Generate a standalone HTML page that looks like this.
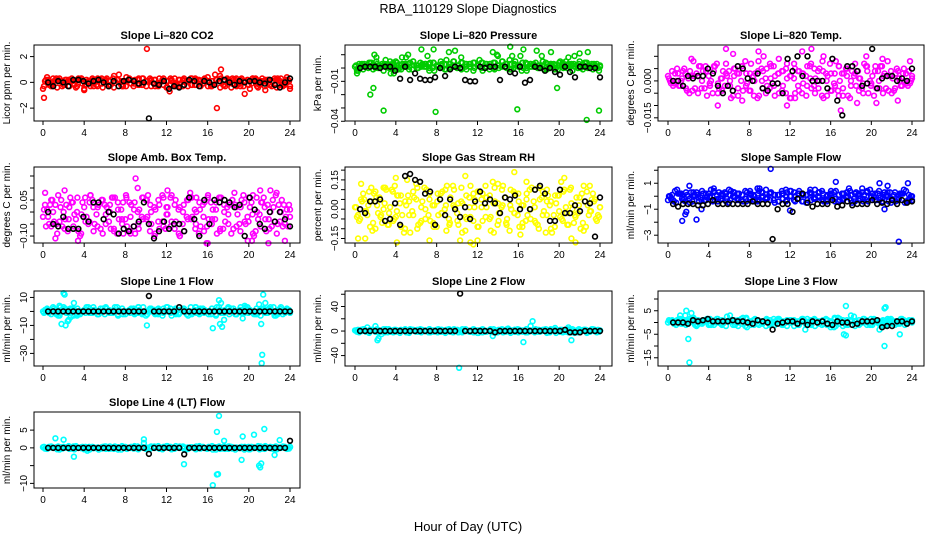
<!DOCTYPE html>
<html><head><meta charset="utf-8"><style>
html,body{margin:0;padding:0;background:#fff;}
svg{display:block;font-family:"Liberation Sans",sans-serif;}
</style></head><body>
<svg id="chart" width="936" height="540" viewBox="0 0 936 540" xmlns="http://www.w3.org/2000/svg">
<rect x="0" y="0" width="936" height="540" fill="#fff"/>
<text x="468" y="13" text-anchor="middle" font-size="12.5">RBA_110129  Slope Diagnostics</text>
<text x="468" y="531" text-anchor="middle" font-size="13">Hour of Day (UTC)</text>
</svg>
<script>
// ---------- data ----------
const hourTicks = [0,4,8,12,16,20,24];
// CO2
const co2BandA = [-0.5,0.4,-0.3,0.2,0.3,-0.2,0.1,0.3,-0.4,0.2,-0.5,0.1,0.3,-0.2,0.2,0.1,-0.3,0.3,0.2,-0.2,0.1,0.3,-0.3,0.2,-0.2,0.1,0.3,-0.1,-0.3,0.2,0.1,-0.2,0.3,-0.3,0.2,0.1,-0.2,0.3,-0.1,0.2,0.4,-0.3,0.2,0.5,-0.2,0.1,0.3,-0.3,0.2,0.1,-0.2,0.3,-0.3,0.1,0.2,-0.2,0.1,0.3,-0.2,0.2,-0.3];
const co2BandB = [0.1,-0.2,0.3,-0.4,0.1,0.2,-0.3,-0.1,0.2,0.3,-0.2,0.1,-0.3,0.3,-0.1,0.2,0.1,-0.4,0.2,0.1,-0.3,0.2,0.1,-0.2,0.3,-0.3,0.1,0.2,-0.2,0.1,-0.4,0.3,-0.1,0.2,-0.3,0.1,0.3,-0.2,0.2,-0.1,0.1,-0.3,0.6,0.1,-0.2,0.3,-0.4,0.2,0.1,-0.3,0.2,-0.1,0.3,-0.2,0.1,0.2,-0.3,0.2,0.1,-0.2,0.2];
const co2OutHours = [0.1,10.1,17.3,17.2,16.9,19.6,12.3,4.0,21.6];
const co2OutVals = [-1.2,2.6,1.0,0.5,-2.0,-0.9,-0.7,-0.6,-0.6];
const co2Black = [0,-0.3,0.1,0,-0.3,0.2,0.2,0.1,-0.1,0.1,0.2,0,-0.3,0.1,-0.3,0.1,0.2,0.1,-0.1,0,-2.8,-0.1,-0.2,0.1,-0.5,-0.3,-0.4,-0.2,0.2,0.1,-0.3,0.1,0,-0.2,0.1,0.2,0,-0.2,0.1,0,0.1,0.1,0,-0.1,0.2,-0.2,-0.4,0,0.3];
// Pressure
const presBandA = [0.001,0.003,-0.001,0.002,0.004,0,0.002,-0.002,0.003,0.001,0.005,0,0.002,0.003,-0.001,0.002,0.004,0.001,0.003,0,0.002,0.005,-0.001,0.003,0.002,0,0.004,0.001,0.003,-0.002,0.002,0.004,0.001,0.003,0,0.002,0.005,0.001,-0.001,0.003,0.002,0.004,0,0.003,0.001,0.002,0.005,-0.001,0.003,0.002,0.004,0,0.002,0.003,0.001,0.005,0.002,0,0.003,0.001,0.002];
const presBandB = [-0.002,0.002,0.001,0.004,-0.001,0.003,0.001,0.002,0,0.004,0.002,-0.001,0.003,0.001,0.005,0,0.002,0.003,-0.002,0.004,0.001,0.002,0.003,0,0.005,0.002,-0.001,0.003,0.001,0.004,0.002,0,0.003,-0.001,0.004,0.002,0.001,0.003,0.006,0,0.002,-0.002,0.004,0.001,0.003,0,0.002,0.004,0.001,0.003,-0.001,0.002,0.005,0.001,0.003,0,0.002,0.004,0.001,0.003,0];
const presOutHours = [0.2,0.3,1.5,1.8,2.1,2.8,3.0,3.5,4.6,5.2,6.5,7.1,7.9,7.7,9.2,9.8,10.4,13.5,14.0,15.2,15.4,15.9,16.5,16.2,17.8,18.3,19.2,19.8,22.0,22.7,22.8,23.9,1.9,3.8,5.0,12.2,13.9,20.9,21.5];
const presOutVals = [-0.004,-0.002,-0.020,-0.015,0.008,-0.032,0.006,-0.004,0.008,0.010,0.014,0.009,-0.033,0.014,0.012,0.013,0.008,0.012,0.009,0.016,0.009,-0.031,0.014,0.009,0.013,0.009,0.012,-0.015,0.011,-0.039,0.012,-0.032,0.010,-0.004,0.008,0.006,0.010,0.008,0.009];
const presBlack = [0,0.001,0.001,0.001,0,0.001,0.001,-0.002,-0.008,0.001,-0.009,-0.004,-0.008,-0.009,-0.009,-0.007,0,-0.006,-0.001,0.001,0,-0.009,-0.010,-0.010,0.001,0,0.001,0.001,-0.009,0.001,-0.003,-0.004,0.001,-0.011,-0.009,0.001,0,-0.002,0,-0.003,-0.005,0.001,-0.003,-0.007,0.001,0.001,0,0,-0.007];
// Li-820 Temp
const tempBandA = [0.002,0.004,0.000,-0.002,0.005,0.001,-0.004,0.003,0.006,-0.003,0.002,-0.005,0.007,0.001,-0.002,0.004,-0.006,0.003,0.000,0.008,-0.004,0.002,-0.007,0.005,0.001,-0.003,0.006,-0.001,0.004,-0.005,0.002,0.007,-0.002,0.003,-0.006,0.001,0.005,-0.003,0.008,0.000,-0.004,0.003,0.006,-0.006,0.002,-0.002,0.007,0.001,-0.005,0.004,-0.001,0.006,-0.003,0.002,0.008,-0.005,0.003,0.000,0.005,-0.002,0.001];
const tempBandB = [0.000,-0.001,0.003,0.001,-0.003,0.004,0.002,-0.005,0.000,0.004,-0.002,0.006,-0.001,-0.004,0.003,0.000,0.005,-0.003,0.006,-0.002,0.003,-0.006,0.004,0.000,-0.005,0.007,-0.002,0.003,-0.004,0.005,-0.007,0.001,0.004,-0.005,0.002,0.006,-0.002,0.004,-0.006,0.003,0.007,-0.001,-0.004,0.003,0.005,-0.007,0.002,0.004,-0.003,0.006,0.000,-0.006,0.004,0.006,-0.003,0.002,-0.004,0.004,-0.002,0.003,-0.001];
const tempOutHours = [5.7,4.9,8.9,14.1,17.0,13.2,15.3,19.5,20.5,22.6,23.8,7.3,2.3,11.7,9.4,16.8,10.9,12.5,6.4,18.6,21.1];
const tempOutVals = [0.013,-0.010,0.012,0.013,-0.012,0.012,0.010,0.010,-0.009,-0.008,0.008,-0.008,0.009,-0.010,0.010,-0.006,0.009,-0.007,0.011,-0.009,0.009];
const tempBlack = [0.0,0.0,-0.002,0.002,0.001,0.002,0.002,0.005,0.003,-0.002,-0.005,-0.002,-0.004,0.006,0.005,0.001,0.0,0.003,-0.003,-0.004,-0.001,-0.001,-0.005,0.009,0.004,0.010,0.002,0.010,0.0,0.000,0.000,-0.003,0.009,-0.008,-0.014,0.006,0.006,0.004,-0.002,-0.001,0.013,-0.003,0.001,0.002,0.002,0.0,0.001,0.000,0.005];
// Amb Box Temp
const ambBandA = [-0.02,0.01,-0.06,0.03,-0.04,0.00,-0.08,0.04,-0.03,-0.10,0.02,-0.05,0.05,-0.01,-0.07,0.03,-0.04,0.06,-0.09,0.01,-0.03,0.04,-0.06,0.00,-0.02,0.05,-0.08,0.02,-0.04,0.07,-0.01,-0.06,0.03,-0.09,0.00,0.05,-0.03,-0.07,0.04,-0.02,0.06,-0.05,0.01,-0.08,0.03,-0.01,0.05,-0.06,0.02,-0.04,0.06,-0.09,0.00,0.04,-0.03,-0.07,0.02,-0.05,0.05,-0.02,0.01];
const ambBandB = [0.03,-0.05,0.00,-0.09,0.05,-0.03,0.02,-0.06,0.06,-0.01,-0.04,0.04,-0.08,0.02,0.05,-0.05,0.00,-0.07,0.04,-0.03,0.07,-0.08,0.01,-0.05,0.06,-0.03,0.03,-0.10,0.05,-0.04,0.02,0.06,-0.07,0.01,-0.05,-0.02,0.06,0.01,-0.09,0.03,-0.06,0.04,-0.03,0.06,-0.07,0.02,-0.09,0.03,-0.05,0.07,-0.02,0.04,-0.08,-0.01,0.06,0.03,-0.06,0.07,-0.04,0.03,-0.06];
const ambOutHours = [0.2,2.1,4.6,9.2,9.0,12.1,14.3,15.9,18.6,20.4,21.1,22.1,22.7,21.9,0.8,3.4,5.8,7.8,10.2,11.9,14.9,16.0,17.2,19.9,20.3,23.5,1.2,6.7,8.5,13.3];
const ambOutVals = [0.08,0.09,0.07,0.10,0.14,0.09,0.08,-0.13,0.08,0.07,0.09,0.09,0.08,-0.13,0.05,-0.12,0.05,-0.09,0.07,-0.07,0.06,-0.13,0.06,-0.12,-0.12,-0.12,-0.11,0.06,-0.09,-0.10];
const ambBlack = [0.0,-0.05,-0.06,-0.02,-0.07,-0.07,-0.07,-0.02,-0.04,0.04,0.04,-0.03,0.00,-0.01,-0.09,-0.07,-0.08,-0.06,-0.04,0.04,-0.05,-0.11,-0.08,-0.04,-0.07,-0.05,-0.05,-0.08,0.06,-0.03,-0.10,0.05,-0.05,0.05,0.04,0.05,0.04,0.02,0.03,-0.10,0.06,0.01,-0.05,-0.07,0.00,-0.04,0.00,-0.03,-0.06];
// Gas Stream RH
const rhBandA = [0.01,-0.06,0.08,-0.03,0.04,-0.10,0.06,0.00,-0.08,0.10,-0.04,0.03,-0.12,0.07,-0.01,0.05,-0.07,0.11,-0.03,0.02,-0.09,0.08,0.00,-0.05,0.12,-0.02,0.04,-0.11,0.06,-0.06,0.09,0.01,-0.04,0.07,-0.12,0.03,0.10,-0.07,0.02,-0.02,0.08,-0.09,0.05,0.00,-0.06,0.11,-0.03,0.04,-0.10,0.07,-0.01,0.09,-0.08,0.03,-0.04,0.06,-0.11,0.02,0.05,-0.05,0.01];
const rhBandB = [-0.04,0.05,-0.01,0.09,-0.07,0.02,-0.03,0.11,-0.02,-0.06,0.07,-0.09,0.04,-0.03,0.09,-0.10,0.01,-0.05,0.08,-0.07,0.04,-0.02,0.10,-0.08,0.02,-0.06,0.11,-0.04,0.01,0.08,-0.09,0.05,0.12,-0.05,0.03,-0.08,0.01,0.06,-0.11,0.09,-0.03,0.02,-0.06,0.10,0.04,-0.08,0.06,-0.12,0.02,-0.03,0.07,-0.05,0.01,0.10,-0.07,-0.02,0.08,-0.09,-0.01,0.04,-0.03];
const rhOutHours = [0.6,0.3,1.0,2.0,4.0,4.1,5.1,6.0,10.3,10.8,11.3,11.6,12.0,13.5,14.0,15.6,16.2,16.8,20.2,20.5,21.2,21.6,22.4,23.0,1.6,2.8,3.9,7.3,9.0,18.8];
const rhOutVals = [0.13,-0.15,-0.15,0.09,0.16,-0.17,0.15,0.13,-0.16,0.17,-0.17,-0.18,-0.16,0.14,0.13,0.19,-0.13,0.14,0.14,0.16,-0.15,-0.17,0.12,0.12,0.11,0.11,0.12,-0.16,0.12,0.10];
const rhBlack = [0.0,-0.02,0.04,0.04,0.05,-0.06,-0.05,0.03,-0.08,0.17,0.18,0.15,0.14,0.08,0.09,-0.08,0.05,-0.03,0.05,0.0,-0.04,0.01,-0.05,0.04,0.09,0.03,0.05,0.03,-0.02,0.06,0.05,0.07,0.00,-0.21,0.00,0.10,0.12,0.08,-0.06,-0.06,0.10,-0.02,-0.02,0.02,-0.01,0.04,0.03,-0.14,0.06];
// Sample Flow
const sfBandA = [-0.3,0.1,-0.5,0.2,-0.2,0.0,-0.4,0.3,-0.1,-0.3,0.2,-0.4,0.1,-0.2,0.3,-0.5,0.0,0.2,-0.3,0.4,-0.1,0.1,-0.4,0.3,-0.2,0.2,-0.3,0.1,0.4,-0.4,0.0,0.3,-0.2,0.1,-0.5,0.2,-0.1,0.3,-0.3,0.0,0.2,-0.4,0.1,-0.2,0.3,-0.3,0.2,0.0,-0.4,0.4,-0.1,0.2,-0.3,0.1,0.3,-0.2,-0.4,0.2,0.5,-0.3,0.0];
const sfBandB = [0.0,-0.4,0.2,-0.2,0.3,-0.5,0.1,-0.1,0.4,-0.3,0.0,0.3,-0.2,0.2,-0.4,0.1,0.3,-0.3,0.1,-0.2,0.4,-0.4,0.2,-0.1,0.5,-0.3,0.1,-0.4,0.2,0.0,0.4,-0.3,0.2,-0.4,0.1,0.3,-0.2,0.0,0.4,-0.3,0.1,0.3,-0.4,0.2,-0.1,0.4,-0.2,0.1,0.3,-0.3,0.5,-0.1,0.2,-0.4,0.0,0.3,0.1,-0.3,0.2,0.4,-0.2];
const sfOutHours = [10.1,1.4,2.8,3.3,1.7,1.8,2.1,16.5,20.8,22.7,23.6,21.3,21.6,12.0,6.0,9.0,14.0,17.8,19.1,4.5,8.8,11.6];
const sfOutVals = [2.1,-1.9,-1.8,-1.0,-1.4,-1.2,0.8,1.1,1.0,-3.5,1.0,-1.0,0.8,-1.1,0.5,0.6,0.5,0.6,0.6,0.6,0.6,0.5];
const sfBlack = [-0.6,-0.8,-0.6,-0.6,-0.6,-0.7,-0.7,-0.6,-0.3,-0.6,-0.6,-0.6,-0.6,-0.6,-0.6,-0.6,-0.4,-0.6,-0.6,-0.6,-3.3,-1.0,-0.6,-0.6,-1.2,-0.2,0.2,-0.5,-0.8,-0.6,-0.6,-0.6,-0.3,-0.8,-0.7,-0.4,-0.7,-0.6,-0.6,-0.6,-0.3,-0.6,-0.5,-0.6,-0.3,-0.6,-0.3,-0.5,-0.4];
// Line 1 Flow
const l1BandA = [0,2,-2,1,-3,3,-1,2,0,-2,1,3,-1,0,2,-2,1,-1,3,0,-2,1,2,-1,0,-3,2,1,-2,0,3,-1,1,-2,2,0,-1,3,-2,1,0,2,-3,1,-1,2,0,-2,3,-1,1,0,-2,2,-1,1,3,-2,0,1,-1];
const l1BandB = [1,-1,3,-2,0,2,1,-3,2,0,-1,2,1,-2,0,3,-1,1,-2,2,0,-1,1,3,-2,0,1,-1,2,-3,0,2,-1,1,0,-2,3,1,-1,2,0,-2,1,3,-1,0,2,-2,1,-1,3,0,-2,1,2,-1,0,-3,2,1,0];
const l1OutHours = [2.0,2.1,1.8,2.2,2.5,2.7,3.0,10.1,16.5,17.2,17.3,17.4,17.1,19.6,21.2,21.3,21.25,21.4,2.4,1.6,3.3,17.6,19.4,21.0,21.6];
const l1OutVals = [13,12,-9,-10,-6,-4,6,-10,-12,-9,6,-11,8,4,-9,-31,-37,12,-7,4,-3,-6,-5,5,6];
const l1Black = [0,0,0,0,0,0,0,0,0,0,0,0,0,0,0,0,0,0,0,0,11,0,0,0,0,0,3,0,0,0,0,0,0,0,0,0,0,0,0,0,0,0,0,0,0,0,0,0,0];
// Line 2 Flow
const l2BandA = [1,-2,3,0,2,-1,1,3,-2,0,2,-3,1,0,2,-1,3,0,-2,1,2,-1,0,3,-2,1,0,2,-1,3,-3,1,0,2,-2,1,3,-1,0,2,-2,1,3,0,-1,2,1,-3,0,2,-1,1,3,-2,0,1,2,-1,3,0,1];
const l2BandB = [-1,2,0,-3,1,3,-1,0,2,-2,1,0,3,-1,2,0,-2,1,3,-1,0,2,-3,1,0,2,-1,3,0,-2,1,2,-1,0,3,-2,1,0,2,-1,3,0,-2,1,2,-1,0,3,-2,1,0,2,-1,3,0,-2,1,2,-1,0,2];
const l2OutHours = [2.2,2.3,2.0,1.2,10.2,13.5,16.5,17.4,17.2,21.2,20.9,19.6,15.0,21.5,2.6];
const l2OutVals = [-15,-12,8,6,-60,-8,-18,16,8,-15,6,5,4,-3,-5];
const l2Black = [0,0,0,0,0,0,0,0,0,0,0,0,0,0,0,0,0,0,0,0,61,0,0,0,0,0,0,-2,0,0,0,0,0,0,0,0,0,0,0,0,0,2,-2,-2,-2,0,0,0,0];
// Line 3 Flow
const l3BandA = [0,1,-1,1.5,0.5,-0.5,1,-1.5,0.5,1,-1,0,1.5,-0.5,0.5,1,-1,0,1.5,-1.5,0.5,1,-0.5,0,1,-1,1.5,0.5,-0.5,0,1,-1.5,0.5,1,-1,0,1.5,-0.5,0.5,1,-1,2,0.5,-1.5,1,3,0.5,-1,1.5,0,-0.5,1,0.5,-1,1.5,0,0.5,-0.5,1,0.5,1];
const l3BandB = [0.5,-0.5,1,0,-1,1.5,0,1,-0.5,0.5,1.5,-1,0,1,-1.5,0.5,0,1,-0.5,1.5,0,-1,1,0.5,-1.5,1,0,1.5,-1,0.5,0,1,-1,1.5,0.5,-0.5,1,0,-1,1.5,0.5,-2,2,0,-1,1,2.5,-0.5,0,1,-1,1.5,0,0.5,-1,1,0.5,-0.5,1.5,0,0.5];
const l3OutHours = [2.1,2.1,2.0,1.8,1.7,2.3,2.5,17.5,21.3,21.4,21.3,22.8,17.3,17.5,13.5,20.8,1.2,16.0];
const l3OutVals = [19,-17,-7,5,3,4,2,7,6,6.5,-10,-5,-5,-5.5,-3,-3,3,-2];
const l3Black = [0,0,0,-0.5,1,0.5,1,1.5,0.5,0.5,0.5,0.5,1,0.5,0.5,0,-0.5,1,0.5,0,-3,-0.5,0,0.5,0.5,-0.5,0.5,-1,0.5,0,0.5,-0.5,-1,0.5,0,0,-1,-0.5,0.5,0.5,0.5,1,-2,-1.5,-1.5,0.5,0.5,-0.5,0.5];
// Line 4 (LT) Flow
const l4BandA = [0.2,-0.3,0.4,0,-0.5,0.3,0.1,-0.2,0.5,0,-0.4,0.2,0.3,-0.1,0,0.4,-0.3,0.2,0.1,-0.5,0.3,0,-0.2,0.4,0.1,-0.3,0.2,0,0.5,-0.4,0.1,0.3,-0.2,0,0.4,-0.1,0.2,-0.3,0.5,0,-0.2,0.3,-0.5,0.1,0.4,-0.3,0.2,0,-0.1,0.3,-0.4,0.2,0.1,-0.2,0.5,0,-0.3,0.2,0.1,-0.1,0.3];
const l4BandB = [-0.2,0.3,0,-0.4,0.2,0.1,-0.3,0.4,0,-0.1,0.3,-0.5,0.2,0.1,-0.2,0.4,0,-0.3,0.2,0.5,-0.1,0,0.3,-0.4,0.2,0.1,-0.2,0.4,0,-0.3,0.5,0.1,-0.2,0.3,0,-0.4,0.2,0.1,-0.1,0.3,-0.3,0.2,0,0.4,-0.2,0.1,0.3,-0.5,0,0.2,-0.1,0.3,0,-0.4,0.2,0.1,-0.2,0.4,0,0.1,-0.2];
const l4OutHours = [1.2,2.0,3.0,9.8,13.7,16.5,16.9,17.0,17.1,16.9,19.4,20.5,21.5,19.3,21.0,21.1,22.5,23.0,9.8,17.6,21.2,4.3];
const l4OutVals = [2.7,2.3,-2.5,2.4,-4.6,-10.5,-7.5,-7.4,9,4.5,3.2,3.7,5.3,-3.4,-5,-5.5,-2,2.2,1.4,2,-4.4,-0.8];
const l4Black = [0,0,0,0,0,0,0,0,0,0,0,0,0,0,0,0,0,0,0,0,-1.7,0,0,0,0,0,0,-1.8,0,0,0,0,0,0,0,0,0,0,0,0,0,0,0,0,0,0,0,0,2];

// ---------- layout ----------
const colL=[34,345,658], colR=[300,612,924], colX0=[43,355,668], colX24=[290,600,912];
const rowT=[45,167,291,412], rowB=[121,243,366,488];
const panels=[
 {name:'co2',title:'Slope Li\u2013820 CO2',ylab:'Licor ppm per min.',r:0,c:0,col:'#ff0000',dom:[-3.0,2.9],ticks:[-2,0,2],labels:['\u22122','0','2'],A:co2BandA,B:co2BandB,oh:co2OutHours,ov:co2OutVals,k:co2Black},
 {name:'pressure',title:'Slope Li\u2013820 Pressure',ylab:'kPa per min.',r:0,c:1,col:'#00cc00',dom:[-0.0398,0.0173],ticks:[-0.04,-0.03,-0.02,-0.01,0,0.01],labels:['\u22120.04','','','\u22120.01','',''],A:presBandA,B:presBandB,oh:presOutHours,ov:presOutVals,k:presBlack},
 {name:'li820-temp',title:'Slope Li\u2013820 Temp.',ylab:'degrees C per min.',r:0,c:2,col:'#ff00ff',dom:[-0.0163,0.0146],ticks:[-0.015,-0.01,-0.005,0,0.005,0.01],labels:['\u22120.015','','','0.000','',''],A:tempBandA,B:tempBandB,oh:tempOutHours,ov:tempOutVals,k:tempBlack},
 {name:'amb-box-temp',title:'Slope Amb. Box Temp.',ylab:'degrees C per min.',r:1,c:0,col:'#ff00ff',dom:[-0.129,0.1875],ticks:[-0.1,-0.05,0,0.05,0.1,0.15],labels:['\u22120.10','','','0.05','',''],A:ambBandA,B:ambBandB,oh:ambOutHours,ov:ambOutVals,k:ambBlack},
 {name:'gas-stream-rh',title:'Slope Gas Stream RH',ylab:'percent per min.',r:1,c:1,col:'#ffff00',dom:[-0.173,0.216],ticks:[-0.15,-0.1,-0.05,0,0.05,0.1,0.15,0.2],labels:['\u22120.15','','','0.00','','','0.15',''],A:rhBandA,B:rhBandB,oh:rhOutHours,ov:rhOutVals,k:rhBlack},
 {name:'sample-flow',title:'Slope Sample Flow',ylab:'ml/min per min.',r:1,c:2,col:'#0000ff',dom:[-3.6,2.25],ticks:[-3,-2,-1,0,1,2],labels:['\u22123','','\u22121','','1',''],A:sfBandA,B:sfBandB,oh:sfOutHours,ov:sfOutVals,k:sfBlack},
 {name:'line1-flow',title:'Slope Line 1 Flow',ylab:'ml/min per min.',r:2,c:0,col:'#00ffff',dom:[-39,14.6],ticks:[-30,-20,-10,0,10],labels:['\u221230','','\u221210','','10'],A:l1BandA,B:l1BandB,oh:l1OutHours,ov:l1OutVals,k:l1Black},
 {name:'line2-flow',title:'Slope Line 2 Flow',ylab:'ml/min per min.',r:2,c:1,col:'#00ffff',dom:[-57,65.3],ticks:[-40,-20,0,20,40,60],labels:['\u221240','','0','','40',''],A:l2BandA,B:l2BandB,oh:l2OutHours,ov:l2OutVals,k:l2Black},
 {name:'line3-flow',title:'Slope Line 3 Flow',ylab:'ml/min per min.',r:2,c:2,col:'#00ffff',dom:[-18.5,13.4],ticks:[-15,-10,-5,0,5,10],labels:['\u221215','','\u22125','','5',''],A:l3BandA,B:l3BandB,oh:l3OutHours,ov:l3OutVals,k:l3Black},
 {name:'line4-flow',title:'Slope Line 4 (LT) Flow',ylab:'ml/min per min.',r:3,c:0,col:'#00ffff',dom:[-11.3,10.1],ticks:[-10,-5,0,5],labels:['\u221210','','0','5'],A:l4BandA,B:l4BandB,oh:l4OutHours,ov:l4OutVals,k:l4Black}
];
const NS='http://www.w3.org/2000/svg';
const svg=document.getElementById('chart');
function mk(tag,attrs,parent){const e=document.createElementNS(NS,tag);for(const a in attrs)e.setAttribute(a,attrs[a]);(parent||svg).appendChild(e);return e;}

panels.forEach(p=>{
 const L=colL[p.c],R=colR[p.c],T=rowT[p.r],B=rowB[p.r];
 const x0=colX0[p.c],x24=colX24[p.c];
 const xs=h=>x0+(x24-x0)*h/24;
 const ys=v=>B-(v-p.dom[0])/(p.dom[1]-p.dom[0])*(B-T);
 const g=mk('g',{});
 
 
 const t=mk('text',{x:(L+R)/2,y:T-6,'text-anchor':'middle','font-size':'11','font-weight':'bold'},g);
 t.textContent=p.title;
 
 
 const pg=mk('g',{fill:'none','stroke-width':'1.6'},g);
 
 
 const dot=(h,v,color,nm)=>{const yy=ys(v);if(yy<T-3||yy>B+3)return;const c=mk('circle',{cx:xs(h).toFixed(1),cy:yy.toFixed(1),r:2.4,stroke:color},pg);};
 const nA=p.A.length, nB=p.B.length;
 p.A.forEach((v,i)=>dot(i*24/(nA-1),v,p.col,'point'));
 p.B.forEach((v,i)=>dot((i+0.5)*24/nB,v,p.col,'point'));
 p.A.forEach((v,i)=>dot(Math.min(24,(nA-1-i+0.25)*24/(nA-1)),v,p.col,'point'));
 p.B.forEach((v,i)=>dot(Math.min(24,(nB-1-i+0.75)*24/nB),v,p.col,'point'));
 p.oh.forEach((h,i)=>dot(h,p.ov[i],p.col,'outlier-point'));
 p.k.forEach((v,i)=>dot(0.5+i*23.5/(p.k.length-1),v,'#000','black-point'));
 const fr=mk('rect',{x:L,y:T,width:R-L,height:B-T,fill:'none',stroke:'#000','stroke-width':'1'},g);
 
 
 const xa=mk('g',{},g);
 
 
 mk('line',{x1:xs(0),x2:xs(24),y1:B,y2:B,stroke:'#000'},xa);
 hourTicks.forEach(h=>{
  mk('line',{x1:xs(h),x2:xs(h),y1:B,y2:B+4,stroke:'#000'},xa);
  const tt=mk('text',{x:xs(h),y:B+15,'text-anchor':'middle','font-size':'10'},xa);
  tt.textContent=h;
  
  
 });
 const ya=mk('g',{},g);
 
 
 const yt=p.ticks.map(ys);
 mk('line',{x1:L,x2:L,y1:Math.min(...yt),y2:Math.max(...yt),stroke:'#000'},ya);
 p.ticks.forEach((v,i)=>{
  const y=ys(v);
  mk('line',{x1:L-4,x2:L,y1:y,y2:y,stroke:'#000'},ya);
  if(p.labels[i]){
   const tt=mk('text',{x:L-7,y:y,'text-anchor':'middle','font-size':'10',transform:`rotate(-90 ${L-7} ${y})`},ya);
   tt.textContent=p.labels[i];
   
   
  }
 });
 const yl=mk('text',{x:L-24,y:(T+B)/2,'text-anchor':'middle','font-size':'10',transform:`rotate(-90 ${L-24} ${(T+B)/2})`},g);
 yl.textContent=p.ylab;
 
 
});
</script>
</body></html>
